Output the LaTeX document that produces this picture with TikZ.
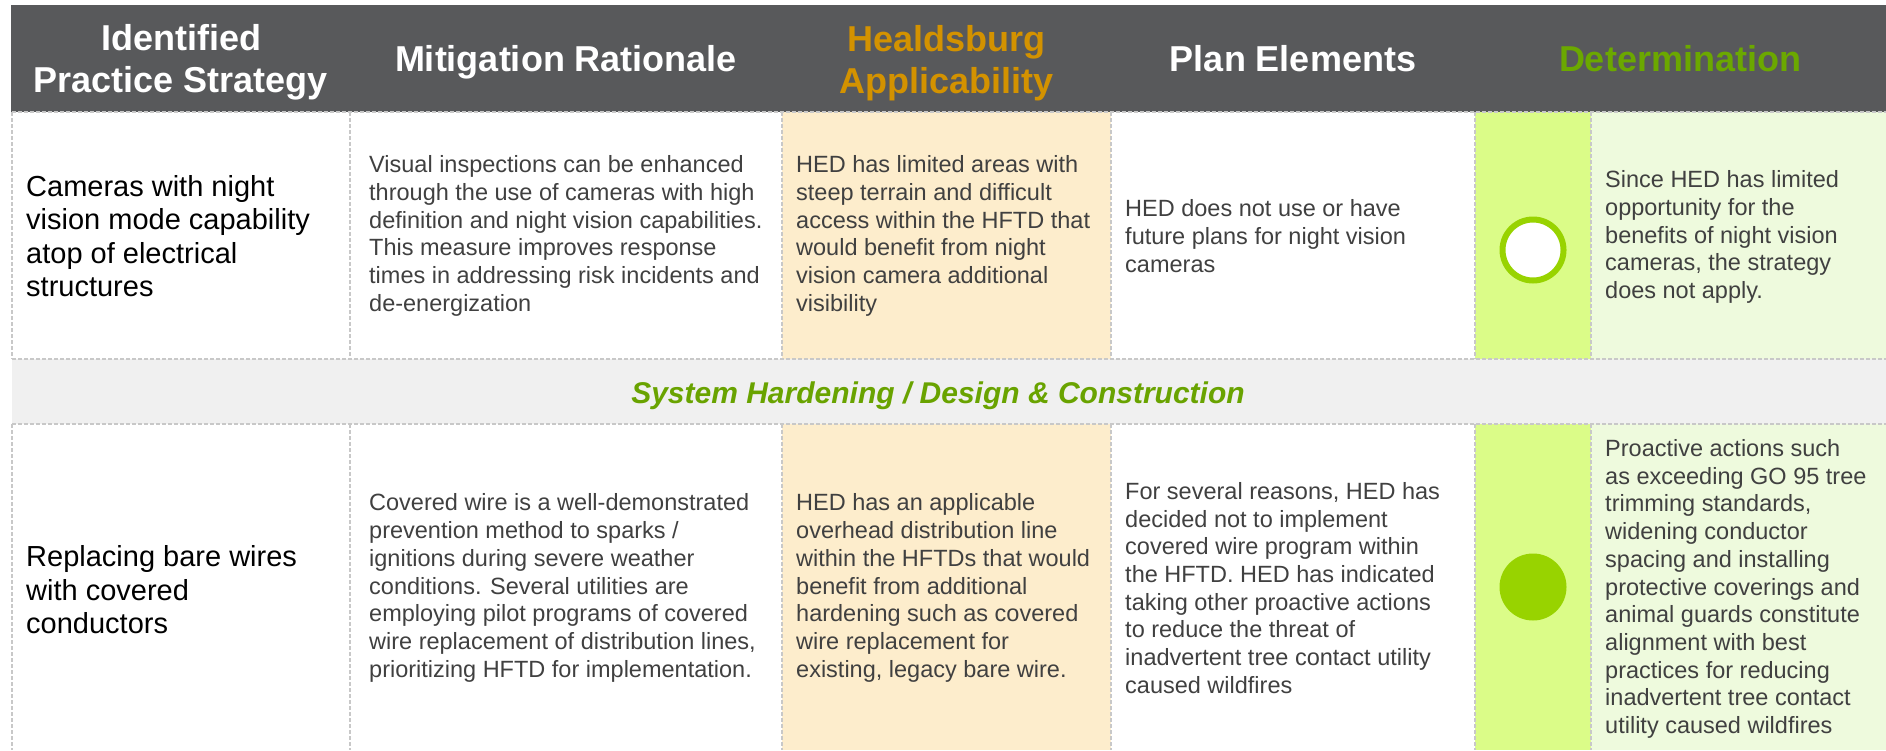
\documentclass[tikz,border=0pt]{standalone}
\usepackage{fontspec}
\setmainfont{Liberation Sans}
\definecolor{hdr}{HTML}{58595B}
\definecolor{hdrorange}{HTML}{D39200}
\definecolor{hdrgreen}{HTML}{6BA800}
\definecolor{bandbg}{HTML}{F0F0F0}
\definecolor{bandtxt}{HTML}{69A300}
\definecolor{orangebg}{HTML}{FDEDCC}
\definecolor{limebg}{HTML}{DBFC88}
\definecolor{palegreen}{HTML}{EEFADD}
\definecolor{dotg}{HTML}{98D300}
\definecolor{txt}{HTML}{404040}
\definecolor{gridc}{HTML}{C8C8C8}
\begin{document}
\begin{tikzpicture}[x=1pt,y=-1pt,
  hdrtext/.style={anchor=base,inner sep=0pt,font=\fontsize{36}{42}\selectfont\bfseries},
  body/.style={anchor=west,inner sep=0pt,align=left,text=txt,font=\fontsize{23.5}{27.7}\selectfont},
  first/.style={anchor=west,inner sep=0pt,align=left,text=black,font=\fontsize{29}{33.5}\selectfont},
  gridline/.style={draw=gridc,line width=1.2pt,dash pattern=on 4pt off 2pt}]
\useasboundingbox (0,0) rectangle (1886,750);
% backgrounds
\fill[hdr] (11,5) rectangle (1886,112);
\fill[orangebg] (782,112) rectangle (1111,359);
\fill[orangebg] (782,424) rectangle (1111,750);
\fill[limebg] (1475,112) rectangle (1591,359);
\fill[limebg] (1475,424) rectangle (1591,750);
\fill[palegreen] (1591,112) rectangle (1886,359);
\fill[palegreen] (1591,424) rectangle (1886,750);
\fill[bandbg] (12,359) rectangle (1886,424);
% grid
\foreach \xx in {12,350,782,1111,1475,1591}{
  \draw[gridline] (\xx,112) -- (\xx,359);
  \draw[gridline] (\xx,424) -- (\xx,750);
}
\draw[gridline] (12,112) -- (1886,112);
\draw[gridline] (12,359) -- (1886,359);
\draw[gridline] (12,424) -- (1886,424);
% header
\node[hdrtext,text=white] (h1a) at (181,50) {Identified};
\node[hdrtext,text=white] (h1b) at (181,92) {Practice Strategy};
\node[hdrtext,text=white] (h2) at (566,71.5) {Mitigation Rationale};
\node[hdrtext,text=hdrorange] (h3a) at (946.5,51) {Healdsburg};
\node[hdrtext,text=hdrorange] (h3b) at (946.5,93) {Applicability};
\node[hdrtext,text=white] (h4) at (1293,71.5) {Plan Elements};
\node[hdrtext,text=hdrgreen] (h5) at (1680,71.5) {Determination};
% row 1
\node[first] (r1c1) at (26,236) {Cameras with night\\vision mode capability\\atop of electrical\\structures};
\node[body] (r1c2) at (369,236) {Visual inspections can be enhanced\\through the use of cameras with high\\definition and night vision capabilities.\\This measure improves response\\times in addressing risk incidents and\\de-energization};
\node[body] (r1c3) at (796,236) {HED has limited areas with\\steep terrain and difficult\\access within the HFTD that\\would benefit from night\\vision camera additional\\visibility};
\node[body] (r1c4) at (1125,236) {HED does not use or have\\future plans for night vision\\cameras};
\node[circle,draw=dotg,line width=6pt,fill=white,minimum size=61pt,inner sep=0pt] (r1dot) at (1533,250) {};
\node[body] (r1c6) at (1605,237) {Since HED has limited\\opportunity for the\\benefits of night vision\\cameras, the strategy\\does not apply.};
% band
\node[anchor=base,inner sep=0pt,text=bandtxt,font=\fontsize{30}{35}\selectfont\bfseries\itshape] (band) at (938,403) {System Hardening / Design \& Construction};
% row 2
\node[first] (r2c1) at (26,590) {Replacing bare wires\\with covered\\conductors};
\node[body] (r2c2) at (369,588) {Covered wire is a well-demonstrated\\prevention method to sparks /\\ignitions during severe weather\\conditions. Several utilities are\\employing pilot programs of covered\\wire replacement of distribution lines,\\prioritizing HFTD for implementation.};
\node[body] (r2c3) at (796,588) {HED has an applicable\\overhead distribution line\\within the HFTDs that would\\benefit from additional\\hardening such as covered\\wire replacement for\\existing, legacy bare wire.};
\node[body] (r2c4) at (1125,588) {For several reasons, HED has\\decided not to implement\\covered wire program within\\the HFTD. HED has indicated\\taking other proactive actions\\to reduce the threat of\\inadvertent tree contact utility\\caused wildfires};
\node[circle,fill=dotg,minimum size=67pt,inner sep=0pt] (r2dot) at (1533,587) {};
\node[body] (r2c6) at (1605,589) {Proactive actions such\\as exceeding GO 95 tree\\trimming standards,\\widening conductor\\spacing and installing\\protective coverings and\\animal guards constitute\\alignment with best\\practices for reducing\\inadvertent tree contact\\utility caused wildfires};
\end{tikzpicture}
\end{document}
